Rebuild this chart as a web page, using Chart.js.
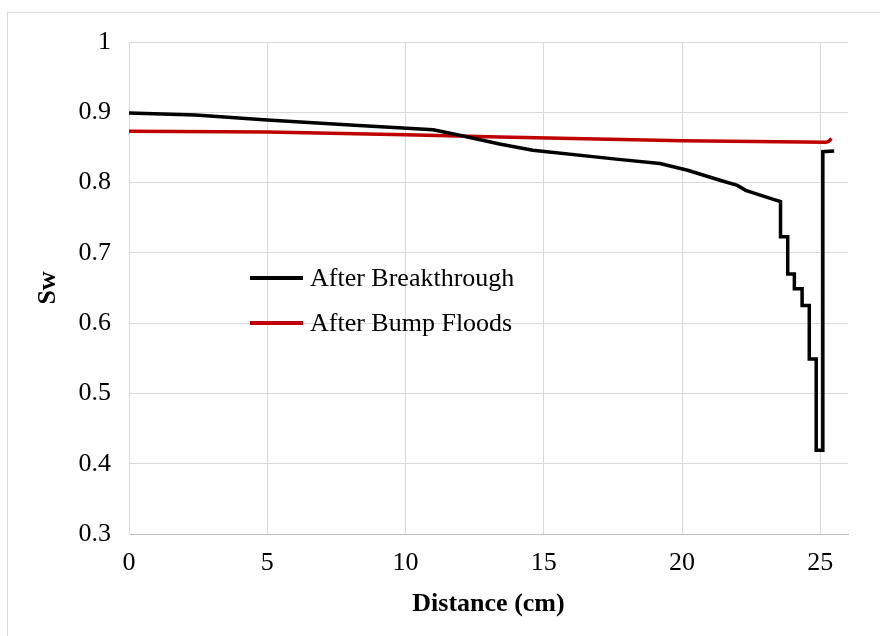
<!DOCTYPE html>
<html>
<head>
<meta charset="utf-8">
<script src="https://cdn.jsdelivr.net/npm/chart.js@4/dist/chart.umd.min.js"></script>
<style>
  html, body { margin: 0; padding: 0; background: #fff; }
  #wrap { width: 880px; height: 636px; position: relative; }
</style>
</head>
<body>
<div id="wrap"><canvas id="swChart"></canvas></div>
<script>
// values
const breakX = [0, 2.4, 5, 8, 11.0, 12.0, 13.4, 14.6, 17.7, 19.2, 20.2, 21.4, 22.0, 22.3, 23.3,
    23.56, 23.56, 23.82, 23.82, 24.06, 24.06, 24.34, 24.34, 24.6, 24.6, 24.85, 24.85, 25.09, 25.09, 25.5]
const breakY = [0.899, 0.896, 0.889, 0.882, 0.875, 0.867, 0.855, 0.846, 0.833, 0.827, 0.8175, 0.803, 0.796, 0.789, 0.776,
    0.773, 0.723, 0.723, 0.670, 0.670, 0.649, 0.649, 0.625, 0.625, 0.549, 0.549, 0.419, 0.419, 0.844, 0.845]

const bumpX = [0, 5, 10, 13.4, 20, 25.2, 25.3, 25.4]
const bumpY = [0.873, 0.872, 0.868, 0.865, 0.8595, 0.8575, 0.8585, 0.8626]

const xTickValues = [0, 5, 10, 15, 20, 25]

const seriesNames = ['After Breakthrough', 'After Bump Floods']
const seriesColors = ['#000000', '#c00000']

const xTitle = 'Distance (cm)'
const yTitle = 'Sw'

const FONT = "'Liberation Serif', 'Times New Roman', serif"

function toPoints(xs, ys) {
    return xs.map((x, i) => ({ x: x, y: ys[i] }))
}

// legend sits inside the plot, titles placed like the original
const decorations = {
    id: 'decorations',
    afterDraw(chart) {
        let { ctx, chartArea } = chart
        ctx.save()

        // frame round the picture
        ctx.strokeStyle = '#d9d9d9'
        ctx.lineWidth = 1
        ctx.strokeRect(7.5, 12.5, 1000, 1000)

        // legend
        let rows = [278, 323]
        rows.forEach((y, i) => {
            ctx.strokeStyle = seriesColors[i]
            ctx.lineWidth = 4
            ctx.beginPath()
            ctx.moveTo(250, y)
            ctx.lineTo(303, y)
            ctx.stroke()
            ctx.fillStyle = '#000'
            ctx.font = '26px ' + FONT
            ctx.textAlign = 'left'
            ctx.textBaseline = 'middle'
            ctx.fillText(seriesNames[i], 310, y + 1)
        })

        // axis titles
        ctx.fillStyle = '#000'
        ctx.font = 'bold 26px ' + FONT
        ctx.textAlign = 'center'
        ctx.textBaseline = 'middle'
        ctx.fillText(xTitle, (chartArea.left + chartArea.right) / 2, 604)

        ctx.translate(48, (chartArea.top + chartArea.bottom) / 2)
        ctx.rotate(-Math.PI / 2)
        ctx.fillText(yTitle, 0, 0)
        ctx.restore()
    }
}

let ctx = document.getElementById('swChart').getContext('2d')
let chart = new Chart(ctx, {
    type: 'scatter',
    data: {
        datasets: [{
            label: seriesNames[0],
            data: toPoints(breakX, breakY),
            borderColor: seriesColors[0],
            borderWidth: 3.5,
            showLine: true,
            pointRadius: 0,
            tension: 0,
            borderJoinStyle: 'miter'
        }, {
            label: seriesNames[1],
            data: toPoints(bumpX, bumpY),
            borderColor: seriesColors[1],
            borderWidth: 3.5,
            showLine: true,
            pointRadius: 0,
            tension: 0
        }]
    },
    options: {
        responsive: true,
        maintainAspectRatio: false,
        animation: false,
        layout: { padding: { top: 42, right: 32, left: 0, bottom: 0 } },
        plugins: {
            legend: { display: false },
            tooltip: { enabled: false }
        },
        scales: {
            x: {
                type: 'linear',
                min: 0,
                max: 26,
                afterBuildTicks: (scale) => {
                    scale.ticks = xTickValues.map(v => ({ value: v }))
                },
                afterFit: (scale) => { scale.height = 102 },
                ticks: {
                    autoSkip: false,
                    color: '#000',
                    padding: 14,
                    maxRotation: 0,
                    font: { family: FONT, size: 26 }
                },
                grid: { color: '#d9d9d9', lineWidth: 1, drawTicks: false },
                border: { color: '#bfbfbf', width: 1 }
            },
            y: {
                min: 0.3,
                max: 1,
                afterFit: (scale) => { scale.width = 129 },
                ticks: {
                    stepSize: 0.1,
                    color: '#000',
                    padding: 18,
                    font: { family: FONT, size: 26 },
                    callback: (v) => parseFloat(v.toFixed(1)).toString()
                },
                grid: { color: '#d9d9d9', lineWidth: 1, drawTicks: false },
                border: { color: '#d9d9d9', width: 1 }
            }
        }
    },
    plugins: [decorations]
})
</script>
</body>
</html>
